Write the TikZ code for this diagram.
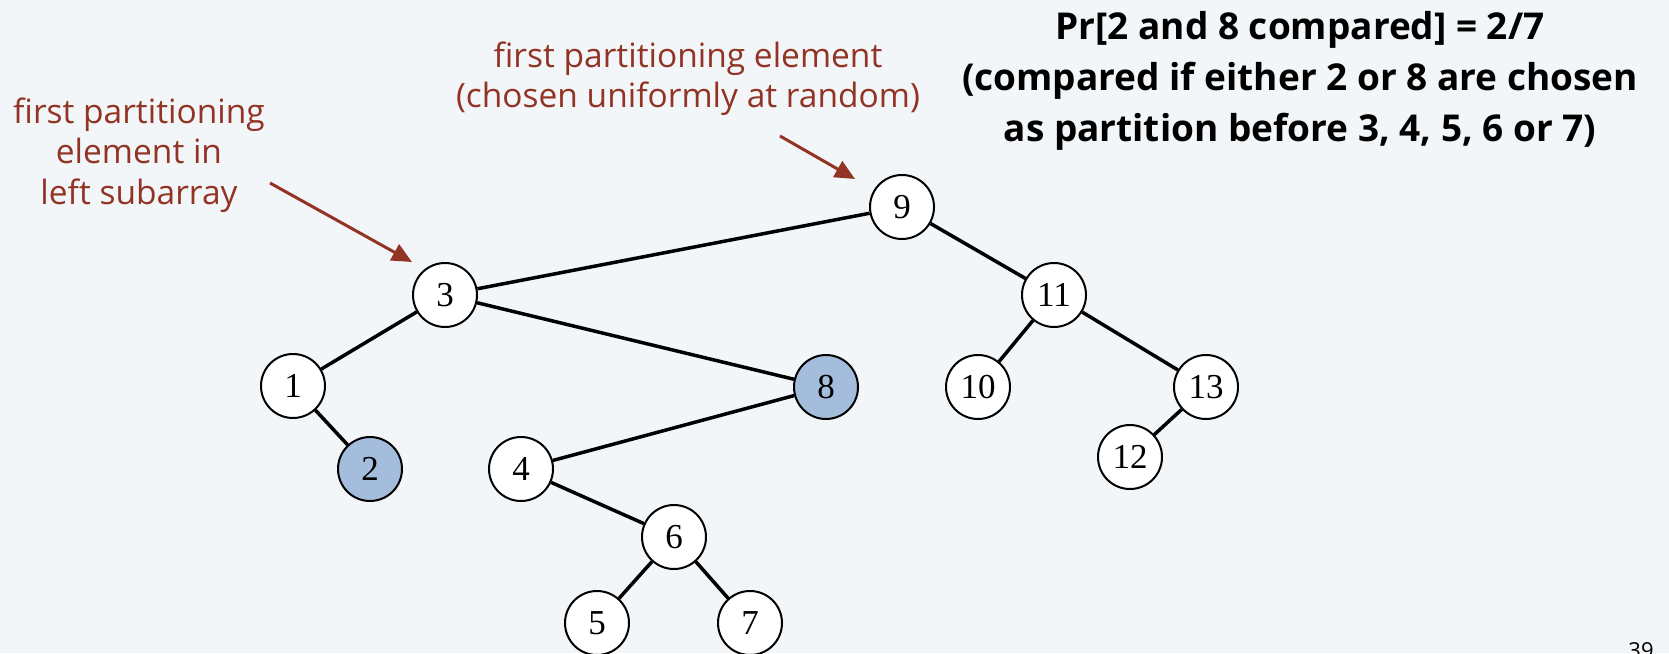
\documentclass[tikz,border=0pt]{standalone}
\usepackage{fontspec}
\setmainfont{Liberation Serif}
\newfontfamily\labfont{Open Sans}
\usetikzlibrary{arrows.meta}
\definecolor{bgc}{HTML}{F2F6F9}
\definecolor{redc}{HTML}{923324}
\definecolor{bluec}{HTML}{A4BDDD}
\tikzset{
  tn/.style={circle, draw=black, line width=2pt, fill=white, minimum size=64pt, inner sep=0pt, font=\fontsize{35}{35}\selectfont},
  hl/.style={tn, fill=bluec},
  edge/.style={line width=3.5pt, black},
  redlab/.style={text=redc, inner sep=0pt, anchor=base, font=\labfont\fontsize{33.5}{33.5}\selectfont},
  blab/.style={text=black, inner sep=0pt, anchor=base, font=\labfont\bfseries\fontsize{37}{37}\selectfont},
  redarrow/.style={draw=redc, line width=3pt, -{Triangle[length=20pt,width=18pt]}}
}
\begin{document}
\begin{tikzpicture}[x=1pt,y=-1pt]
\fill[bgc] (0,0) rectangle (1669,653);
\useasboundingbox (0,0) rectangle (1669,653);
% edges first, nodes drawn over them
\coordinate (c9) at (902,207);
\coordinate (c3) at (445,295);
\coordinate (c11) at (1054,295);
\coordinate (c1) at (293,386);
\coordinate (c8) at (826,387);
\coordinate (c10) at (978,387);
\coordinate (c13) at (1206,387);
\coordinate (c2) at (370,469);
\coordinate (c4) at (521,469);
\coordinate (c12) at (1130,457);
\coordinate (c6) at (674,537);
\coordinate (c5) at (597,623);
\coordinate (c7) at (750,623);
\node[tn] (n9) at (c9) {9};
\node[tn] (n3) at (c3) {3};
\node[tn] (n11) at (c11) {11};
\node[tn] (n1) at (c1) {1};
\node[hl] (n8) at (c8) {8};
\node[tn] (n10) at (c10) {10};
\node[tn] (n13) at (c13) {13};
\node[hl] (n2) at (c2) {2};
\node[tn] (n4) at (c4) {4};
\node[tn] (n12) at (c12) {12};
\node[tn] (n6) at (c6) {6};
\node[tn] (n5) at (c5) {5};
\node[tn] (n7) at (c7) {7};
\draw[edge] (n9) -- (n3);
\draw[edge] (n9) -- (n11);
\draw[edge] (n3) -- (n1);
\draw[edge] (n3) -- (n8);
\draw[edge] (n1) -- (n2);
\draw[edge] (n8) -- (n4);
\draw[edge] (n4) -- (n6);
\draw[edge] (n6) -- (n5);
\draw[edge] (n6) -- (n7);
\draw[edge] (n11) -- (n10);
\draw[edge] (n11) -- (n13);
\draw[edge] (n13) -- (n12);
% labels
\node[redlab] (la1) at (139,123) {first partitioning};
\node[redlab] (la2) at (139,163) {element in};
\node[redlab] (la3) at (139,204) {left subarray};
\node[redlab] (lb1) at (688,67) {first partitioning element};
\node[redlab] (lb2) at (688,107) {(chosen uniformly at random)};
\coordinate (a1s) at (270,183);
\coordinate (a1e) at (412,262);
\coordinate (a2s) at (780,136);
\coordinate (a2e) at (855,179);
\draw[redarrow] (a1s) -- (a1e);
\draw[redarrow] (a2s) -- (a2e);
\node[blab] (t1) at (1300,39) {Pr[2 and 8 compared] = 2/7};
\node[blab] (t2) at (1300,90) {(compared if either 2 or 8 are chosen};
\node[blab] (t3) at (1300,141) {as partition before 3, 4, 5, 6 or 7)};
\node[inner sep=0pt, anchor=base, font=\labfont\fontsize{22}{22}\selectfont] (pg) at (1641,658) {39};
\end{tikzpicture}
\end{document}
